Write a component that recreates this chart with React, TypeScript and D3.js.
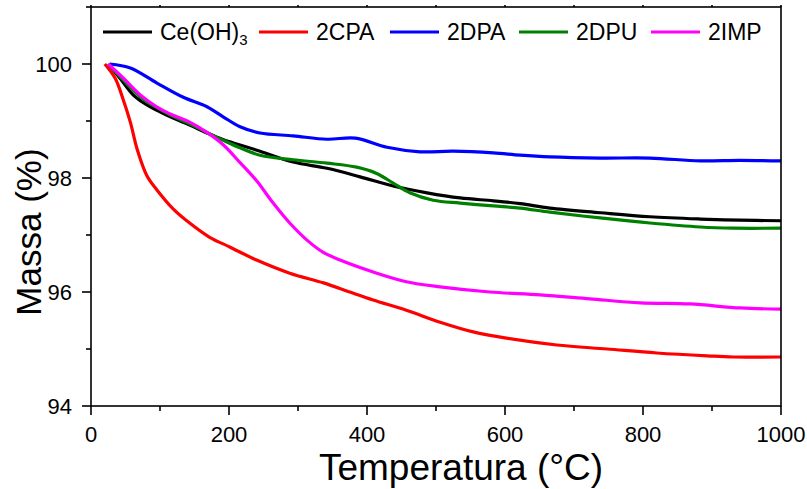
import React from "react";
import * as d3 from "d3";

const W = 807;
const H = 489;

const xTicks = [0, 200, 400, 600, 800, 1000];
const xMinor = [100, 300, 500, 700, 900];
const yTicks = [94, 96, 98, 100];
const yMinor = [95, 97, 99, 101];

const ceT = [25, 42, 61, 76, 95, 119, 143, 168, 192, 216, 245, 293, 342, 390, 438, 487, 535, 583, 622, 665, 738, 810, 883, 940, 1000];
const ceM = [100.0, 99.75, 99.46, 99.32, 99.19, 99.05, 98.93, 98.79, 98.67, 98.58, 98.47, 98.28, 98.17, 98.02, 97.86, 97.74, 97.65, 97.6, 97.55, 97.47, 97.39, 97.32, 97.28, 97.26, 97.25];

const cpaT = [20, 35, 46, 57, 67, 81, 95, 119, 143, 172, 201, 240, 288, 337, 375, 409, 457, 506, 554, 602, 675, 748, 820, 893, 931, 1000];
const cpaM = [100.0, 99.75, 99.4, 98.98, 98.5, 98.04, 97.8, 97.46, 97.21, 96.96, 96.79, 96.56, 96.33, 96.16, 96.0, 95.86, 95.68, 95.47, 95.3, 95.19, 95.07, 95.0, 94.93, 94.88, 94.86, 94.86];

const dpaT = [27, 57, 95, 133, 168, 192, 216, 245, 293, 342, 383, 429, 477, 525, 583, 622, 665, 738, 810, 883, 940, 1000];
const dpaM = [100.0, 99.93, 99.67, 99.42, 99.25, 99.07, 98.9, 98.79, 98.74, 98.68, 98.7, 98.54, 98.46, 98.47, 98.44, 98.4, 98.37, 98.35, 98.35, 98.3, 98.31, 98.3];

const dpuT = [25, 42, 61, 76, 95, 119, 143, 168, 192, 216, 245, 293, 342, 385, 414, 438, 462, 496, 535, 583, 622, 665, 738, 810, 883, 931, 1000];
const dpuM = [100.0, 99.78, 99.54, 99.38, 99.24, 99.08, 98.95, 98.8, 98.66, 98.53, 98.4, 98.32, 98.26, 98.19, 98.08, 97.91, 97.74, 97.61, 97.56, 97.51, 97.47, 97.4, 97.3, 97.21, 97.14, 97.12, 97.12];

const impT = [25, 47, 71, 95, 119, 143, 168, 192, 216, 240, 264, 288, 313, 336, 361, 409, 457, 506, 578, 651, 723, 796, 868, 941, 1000];
const impM = [100.0, 99.75, 99.46, 99.25, 99.1, 98.98, 98.8, 98.58, 98.27, 97.95, 97.56, 97.21, 96.91, 96.7, 96.56, 96.35, 96.18, 96.09, 96.0, 95.95, 95.88, 95.81, 95.79, 95.72, 95.7];

const series = [
  { name: "Ce(OH)", sub: "3", T: ceT, M: ceM, color: "#000000" },
  { name: "2CPA", sub: "", T: cpaT, M: cpaM, color: "#ff0000" },
  { name: "2DPA", sub: "", T: dpaT, M: dpaM, color: "#0000ff" },
  { name: "2DPU", sub: "", T: dpuT, M: dpuM, color: "#008000" },
  { name: "2IMP", sub: "", T: impT, M: impM, color: "#ff00ff" },
];

const legendX = [103, 259, 390, 519, 651];

export default function App() {
  const left = 91, right = 781, top = 7, bottom = 406;
  const x = d3.scaleLinear().domain([0, 1000]).range([left, right]);
  const y = d3.scaleLinear().domain([94, 101]).range([bottom, top]);
  const font = "Arial, 'Liberation Sans', sans-serif";

  const line = (T: number[], M: number[]) =>
    d3
      .line<number>()
      .x((_, i) => x(T[i]))
      .y((d) => y(d))
      .curve(d3.curveCatmullRom.alpha(0.5))(M) as string;

  return (
    <svg
      width={W}
      height={H}
      style={{ position: "absolute", left: 0, top: 0, background: "#fff" }}
      fontFamily={font}
    >
      <rect x={0} y={0} width={W} height={H} fill="#fff" />
      {series.map((s) => (
        <path key={s.name} d={line(s.T, s.M)} fill="none" stroke={s.color} strokeWidth={3.2} strokeLinejoin="round" />
      ))}
      <rect x={left} y={top} width={right - left} height={bottom - top} fill="none" stroke="#000" strokeWidth={1.6} />
      {xTicks.map((t) => (
        <g key={"xt" + t}>
          <line x1={x(t)} x2={x(t)} y1={bottom} y2={bottom + 9} stroke="#000" strokeWidth={1.6} />
          <line x1={x(t)} x2={x(t)} y1={top} y2={top - 2} stroke="#000" strokeWidth={1.6} />
          <text x={x(t)} y={442} fontSize={22} textAnchor="middle" fill="#000">
            {t}
          </text>
        </g>
      ))}
      {xMinor.map((t) => (
        <g key={"xm" + t}>
          <line x1={x(t)} x2={x(t)} y1={bottom} y2={bottom + 5} stroke="#000" strokeWidth={1.6} />
          <line x1={x(t)} x2={x(t)} y1={top} y2={top - 2} stroke="#000" strokeWidth={1.6} />
        </g>
      ))}
      {yTicks.map((t) => (
        <g key={"yt" + t}>
          <line x1={left - 9} x2={left} y1={y(t)} y2={y(t)} stroke="#000" strokeWidth={1.6} />
          <text x={72} y={y(t) + 7.5} fontSize={22} textAnchor="end" fill="#000">
            {t}
          </text>
        </g>
      ))}
      {yMinor.map((t) => (
        <line key={"ym" + t} x1={left - 5} x2={left} y1={y(t)} y2={y(t)} stroke="#000" strokeWidth={1.6} />
      ))}
      <text x={461} y={480} fontSize={37} textAnchor="middle" fill="#000">
        Temperatura (°C)
      </text>
      <text transform={`translate(41,232) rotate(-90)`} fontSize={35} textAnchor="middle" fill="#000">
        Massa (%)
      </text>
      {series.map((s, i) => (
        <g key={"lg" + s.name}>
          <line x1={legendX[i]} x2={legendX[i] + 49} y1={32} y2={32} stroke={s.color} strokeWidth={3.2} />
          <text x={legendX[i] + 57} y={40} fontSize={23} fill="#000">
            {s.name}
            {s.sub ? (
              <tspan fontSize={15} dy={5}>
                {s.sub}
              </tspan>
            ) : null}
          </text>
        </g>
      ))}
    </svg>
  );
}
